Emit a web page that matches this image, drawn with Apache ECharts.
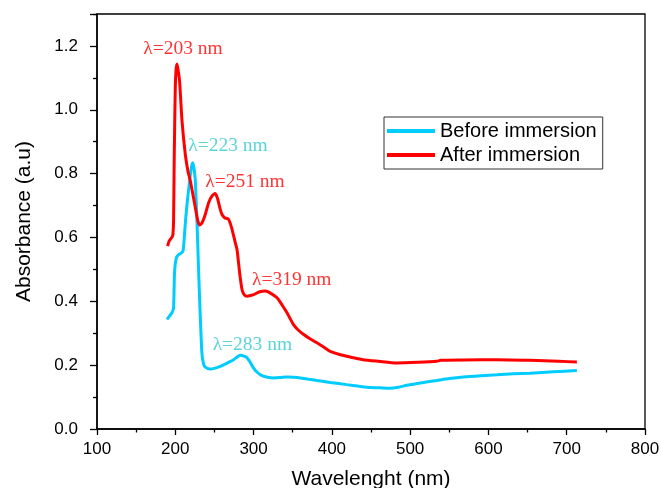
<!DOCTYPE html>
<html>
<head>
<meta charset="utf-8">
<script src="https://cdn.jsdelivr.net/npm/echarts@6/dist/echarts.min.js"></script>
<style>html,body{margin:0;padding:0;background:#fff}#c{width:661px;height:488px}</style>
</head>
<body>
<div id="c"></div>
<script>
// Before immersion: [wavelength, absorbance]
var beforeData = [
  [189.4,0.343],[192,0.352],[195.8,0.364],[197.8,0.380],[199.1,0.494],[201.3,0.536],[204,0.546],
  [206.4,0.549],[209.8,0.557],[211.5,0.599],[213,0.650],[215,0.704],[218.3,0.777],[220.5,0.818],
  [222.2,0.834],[224,0.815],[225.6,0.777],[227.7,0.651],[229.8,0.494],[232,0.348],[234,0.238],
  [236,0.205],[238.4,0.194],[244.7,0.188],[250,0.190],[257.5,0.196],[265,0.205],[274.5,0.217],
  [283,0.231],[287,0.229],[291.6,0.223],[296,0.208],[300,0.191],[305,0.177],[310.8,0.167],
  [318,0.162],[325.6,0.160],[334,0.161],[342.7,0.163],[351,0.162],[359.7,0.160],[370,0.156],
  [381,0.152],[390,0.149],[398,0.146],[419,0.139],[435,0.134],[449,0.130],[462,0.129],
  [474.6,0.128],[485,0.131],[496,0.137],[515,0.145],[534,0.152],[550,0.158],[568,0.163],
  [590,0.167],[611,0.170],[632,0.173],[653,0.175],[683,0.179],[713,0.183]
];
// After immersion: [wavelength, absorbance]
var afterData = [
  [190.2,0.573],[192,0.588],[193.6,0.594],[196,0.602],[197,0.610],[197.8,0.651],[198.7,0.860],
  [200,1.070],[201,1.125],[202.2,1.143],[203.6,1.125],[205.5,1.090],[208.6,0.965],[212.8,0.860],
  [216,0.810],[219.2,0.777],[222.5,0.735],[225.6,0.693],[228.5,0.655],[231,0.639],[234,0.645],
  [238.3,0.672],[242.6,0.709],[247,0.730],[251,0.738],[254,0.722],[257,0.692],[259.7,0.672],
  [263,0.662],[268,0.657],[272,0.630],[276.7,0.583],[279,0.560],[282.2,0.489],[285.2,0.437],
  [288,0.421],[291.6,0.416],[296,0.418],[300,0.421],[308,0.430],[315,0.432],[322,0.425],
  [330,0.411],[336,0.390],[342.7,0.364],[351,0.327],[357,0.310],[364,0.296],[372,0.283],
  [381,0.270],[390,0.256],[398,0.243],[415,0.230],[440,0.217],[460,0.212],[483,0.207],
  [510,0.209],[534,0.212],[539,0.215],[570,0.216],[611,0.217],[653,0.215],[690,0.212],[713,0.210]
];
// Peak annotations (text left edge anchored at [wavelength, absorbance])
var annoText  = ['λ=203 nm','λ=223 nm','λ=251 nm','λ=319 nm','λ=283 nm'];
var annoX     = [159, 216.6, 238.3, 298, 247.7];
var annoY     = [1.19, 0.886, 0.773, 0.468, 0.264];
var annoColor = ['#ff0000','#33c9cc','#ff0000','#ff0000','#33c9cc'];
var seriesNames = ['Before immersion','After immersion'];
var seriesColors = ['#00ccff','#ff0000'];

var annoData = annoText.map(function(t,i){
  return {value:[annoX[i],annoY[i]], name:t, label:{color:annoColor[i]}};
});

var chart = echarts.init(document.getElementById('c'), null, {renderer:'canvas'});
chart.setOption({
  animation:false,
  backgroundColor:'#fff',
  grid:{left:97, top:14, right:16, bottom:59, containLabel:false, outerBoundsMode:'none',
    show:true, borderColor:'#000', borderWidth:1.3, backgroundColor:'transparent'},
  legend:{
    orient:'vertical', left:384, top:117, data:seriesNames,
    icon:'rect', itemWidth:48, itemHeight:4, itemGap:4,
    padding:[4,6,4,3], borderColor:'#333', borderWidth:1, backgroundColor:'#fff',
    textStyle:{fontFamily:'Liberation Sans', fontSize:20, color:'#000'}
  },
  xAxis:{
    type:'value', min:100, max:800, interval:100,
    name:'Wavelenght (nm)', nameLocation:'middle', nameGap:40,
    nameTextStyle:{fontFamily:'Liberation Sans', fontSize:21, color:'#000'},
    axisLine:{lineStyle:{color:'#000', width:1.5}},
    axisTick:{show:true, inside:false, length:6, lineStyle:{color:'#000', width:1.3}},
    minorTick:{show:true, splitNumber:2, length:3.5, lineStyle:{color:'#000', width:1.3}},
    splitLine:{show:false},
    axisLabel:{fontFamily:'Liberation Sans', fontSize:17, color:'#000', margin:12}
  },
  yAxis:{
    type:'value', min:0, max:1.3, interval:0.2,
    name:'Absorbance (a.u)', nameLocation:'middle', nameGap:62,
    nameTextStyle:{fontFamily:'Liberation Sans', fontSize:21, color:'#000'},
    axisLine:{lineStyle:{color:'#000', width:1.5}},
    axisTick:{show:true, inside:false, length:7, lineStyle:{color:'#000', width:1.3}},
    minorTick:{show:true, splitNumber:2, length:4, lineStyle:{color:'#000', width:1.3}},
    splitLine:{show:false},
    axisLabel:{fontFamily:'Liberation Sans', fontSize:17, color:'#000', margin:19, showMaxLabel:false,
      formatter:function(v){return v.toFixed(1);}}
  },
  series:[
    {name:seriesNames[0], type:'line', data:beforeData, showSymbol:false, smooth:0.2,
     lineStyle:{color:seriesColors[0], width:3}, itemStyle:{color:seriesColors[0]}, z:3},
    {name:seriesNames[1], type:'line', data:afterData, showSymbol:false, smooth:0.2,
     lineStyle:{color:seriesColors[1], width:3}, itemStyle:{color:seriesColors[1]}, z:4},
    {name:'anno', type:'scatter', data:annoData, symbolSize:0, silent:true, z:5,
     label:{show:true, position:'right', distance:0, formatter:'{b}',
       fontFamily:'Liberation Serif', fontSize:19.5}}
  ]
});
</script>
</body>
</html>
